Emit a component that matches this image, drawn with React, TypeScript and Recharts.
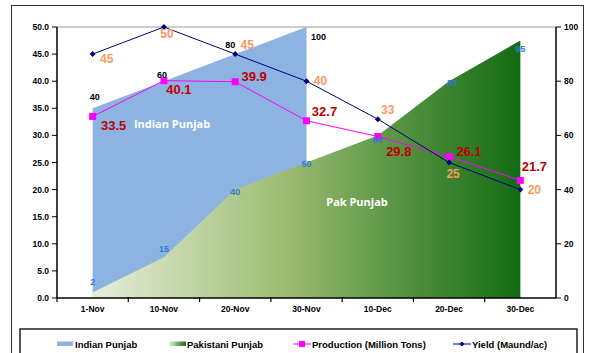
import React from 'react';
import { ComposedChart, Area, Line, XAxis, YAxis, LabelList, ReferenceLine } from 'recharts';

const dates = ['1-Nov', '10-Nov', '20-Nov', '30-Nov', '10-Dec', '20-Dec', '30-Dec'];
const indianPunjab = [70, 80, 90, 100, null, null, null];
const indianPunjabLabels = ['40', '60', '80', '100'];
const pakistaniPunjab = [2, 15, 40, 50, 60, 80, 95];
const production = [33.5, 40.1, 39.9, 32.7, 29.8, 26.1, 21.7];
const yieldValues = [45, 50, 45, 40, 33, 25, 20];
const leftTicks = [0, 5, 10, 15, 20, 25, 30, 35, 40, 45, 50];
const rightTicks = [0, 20, 40, 60, 80, 100];

const data = dates.map((d, i) => ({
  date: d,
  indian: indianPunjab[i],
  pak: pakistaniPunjab[i],
  production: production[i],
  yield: yieldValues[i],
}));

const FONT = '"Liberation Sans", Arial, sans-serif';
const W = 589;
const H = 353;
const PLOT_LEFT = 57;
const PLOT_RIGHT = 556;
const HALF_BAND = (PLOT_RIGHT - PLOT_LEFT) / dates.length / 2;

// label offsets (style only)
const indianOff = [[2, -11], [-2, -6], [-5, -9], [12, 10]];
const pakOff = [[0, -11], [0, -8], [0, 2], [0, 1], [0, 5], [3, 2], [0, 8]];
const prodOff = [[21, 9], [15, 9], [19, -5], [18, -9], [21, 15], [20, -5], [14, -14]];
const yieldOff = [[14, 5], [3, 7], [12, -9], [14, 0], [10, -9], [4, 11], [14, 0]];

const makeLabel = (offs: number[][], color: string, size: number, texts?: string[]) => (props: any) => {
  const { x, y, value, index } = props;
  if (value === null || value === undefined || x == null || y == null) return null;
  const o = offs[index] || [0, 0];
  const txt = texts ? texts[index] : String(value);
  return (
    <text
      key={`l-${index}`}
      x={x + o[0]}
      y={y + o[1]}
      textAnchor="middle"
      dominantBaseline="central"
      fill={color}
      fontSize={size}
      fontWeight="bold"
      fontFamily={FONT}
    >
      {txt}
    </text>
  );
};

const XTick = (props: any) => {
  const { x, y, payload } = props;
  const axisY = y - 8;
  return (
    <g>
      <line x1={x - HALF_BAND} x2={x - HALF_BAND} y1={axisY - 1} y2={axisY + 4} stroke="#000" strokeWidth={1.2} />
      <text x={x} y={y} dy="0.75em" textAnchor="middle" fontSize={8.5} fontWeight="bold" fontFamily={FONT} fill="#000">
        {payload.value}
      </text>
    </g>
  );
};

const SquareDot = (props: any) => {
  const { cx, cy, index } = props;
  if (cx == null || cy == null) return null;
  return <rect key={`s-${index}`} x={cx - 3.5} y={cy - 3.5} width={7} height={7} fill="#FF00FF" />;
};

const DiamondDot = (props: any) => {
  const { cx, cy, index } = props;
  if (cx == null || cy == null) return null;
  return (
    <polygon
      key={`d-${index}`}
      points={`${cx},${cy - 3} ${cx + 3},${cy} ${cx},${cy + 3} ${cx - 3},${cy}`}
      fill="#000080"
    />
  );
};

export default function App() {
  return (
    <div style={{ position: 'absolute', left: 0, top: 0, width: W, height: H, overflow: 'hidden', background: '#fff' }}>
      <div
        style={{
          position: 'absolute',
          left: 11,
          top: 5,
          width: 573,
          height: 400,
          border: '1.5px solid #333',
          boxSizing: 'border-box',
        }}
      />
      <div style={{ position: 'absolute', left: 0, top: 0 }}>
        <ComposedChart width={W} height={H} data={data} margin={{ top: 27, right: 0, bottom: 25, left: 0 }}>
          <defs>
            <linearGradient id="pakGrad" x1="0" y1="0" x2="1" y2="0">
              <stop offset="0%" stopColor="#E6EEDA" />
              <stop offset="45%" stopColor="#9DBC72" />
              <stop offset="75%" stopColor="#4E8E3C" />
              <stop offset="100%" stopColor="#136B13" />
            </linearGradient>
          </defs>
          <XAxis
            dataKey="date"
            scale="band"
            tickLine={false}
            axisLine={{ stroke: '#000', strokeWidth: 1.5 }}
            tick={<XTick />}
            height={30}
            interval={0}
          />
          <YAxis
            yAxisId="left"
            domain={[0, 50]}
            ticks={leftTicks}
            tickFormatter={(v: number) => v.toFixed(1)}
            width={PLOT_LEFT}
            axisLine={{ stroke: '#000', strokeWidth: 1.5 }}
            tickLine={{ stroke: '#000' }}
            tickSize={5}
            tickMargin={3}
            tick={{ fontSize: 8.5, fontWeight: 'bold', fill: '#000', fontFamily: FONT }}
            interval={0}
          />
          <YAxis
            yAxisId="right"
            orientation="right"
            domain={[0, 100]}
            ticks={rightTicks}
            width={W - PLOT_RIGHT}
            axisLine={{ stroke: '#000', strokeWidth: 1.5 }}
            tickLine={{ stroke: '#000' }}
            tickSize={5}
            tickMargin={3}
            tick={{ fontSize: 8.5, fontWeight: 'bold', fill: '#000', fontFamily: FONT, textAnchor: 'start' }}
            interval={0}
          />
          <ReferenceLine yAxisId="left" y={50} stroke="#9a9a9a" strokeWidth={1} />
          <Area
            yAxisId="right"
            dataKey="indian"
            type="linear"
            fill="#8DB3E2"
            fillOpacity={1}
            stroke="none"
            isAnimationActive={false}
          >
            <LabelList dataKey="indian" content={makeLabel(indianOff, '#000', 9, indianPunjabLabels)} />
          </Area>
          <Area
            yAxisId="right"
            dataKey="pak"
            type="linear"
            fill="url(#pakGrad)"
            fillOpacity={1}
            stroke="none"
            isAnimationActive={false}
          >
            <LabelList dataKey="pak" content={makeLabel(pakOff, '#2E7BCF', 9)} />
          </Area>
          <Line
            yAxisId="left"
            dataKey="production"
            type="linear"
            stroke="#FF00FF"
            strokeWidth={1}
            dot={<SquareDot />}
            activeDot={false}
            isAnimationActive={false}
          >
            <LabelList dataKey="production" content={makeLabel(prodOff, '#C00000', 13)} />
          </Line>
          <Line
            yAxisId="left"
            dataKey="yield"
            type="linear"
            stroke="#000080"
            strokeWidth={1}
            dot={<DiamondDot />}
            activeDot={false}
            isAnimationActive={false}
          >
            <LabelList dataKey="yield" content={makeLabel(yieldOff, '#F89A62', 12)} />
          </Line>
        </ComposedChart>
      </div>
      <svg width={W} height={H} style={{ position: 'absolute', left: 0, top: 0, pointerEvents: 'none' }}>
        <defs>
          <linearGradient id="legGrad" x1="0" y1="0" x2="1" y2="0">
            <stop offset="0%" stopColor="#E6EEDA" />
            <stop offset="100%" stopColor="#136B13" />
          </linearGradient>
        </defs>
        <text x={172} y={123} textAnchor="middle" dominantBaseline="central" fill="#fff" fontSize={11} fontWeight="bold" fontFamily='"Open Sans", sans-serif'>
          Indian Punjab
        </text>
        <text x={357} y={201} textAnchor="middle" dominantBaseline="central" fill="#fff" fontSize={11} fontWeight="bold" fontFamily='"Open Sans", sans-serif'>
          Pak Punjab
        </text>
        <rect x={20} y={329} width={557} height={40} fill="none" stroke="#222" strokeWidth={1.5} />
        <rect x={57} y={341.5} width={16} height={4.5} fill="#8DB3E2" />
        <text x={75} y={344} dominantBaseline="central" fontSize={9.5} fontWeight="bold" fontFamily={FONT} fill="#000">Indian Punjab</text>
        <rect x={169} y={341.5} width={17} height={4.5} fill="url(#legGrad)" />
        <text x={187} y={344} dominantBaseline="central" fontSize={9.5} fontWeight="bold" fontFamily={FONT} fill="#000">Pakistani Punjab</text>
        <line x1={293} x2={311} y1={344} y2={344} stroke="#FF00FF" strokeWidth={1} />
        <rect x={299} y={341} width={6} height={6} fill="#FF00FF" />
        <text x={312} y={344} dominantBaseline="central" fontSize={9.5} fontWeight="bold" fontFamily={FONT} fill="#000">Production (Million Tons)</text>
        <line x1={453} x2={471} y1={344} y2={344} stroke="#000080" strokeWidth={1} />
        <polygon points="462,341.5 464.5,344 462,346.5 459.5,344" fill="#000080" />
        <text x={472} y={344} dominantBaseline="central" fontSize={9.5} fontWeight="bold" fontFamily={FONT} fill="#000">Yield (Maund/ac)</text>
      </svg>
    </div>
  );
}
